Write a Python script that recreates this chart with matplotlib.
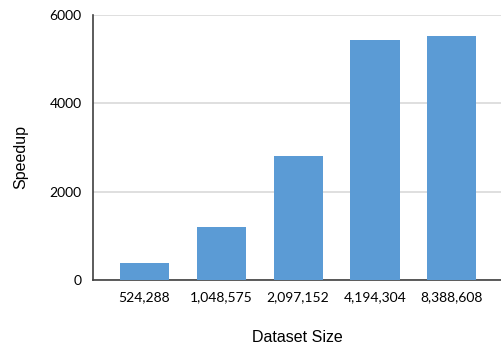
import matplotlib
matplotlib.use("Agg")
import matplotlib.pyplot as plt
import numpy as np

# data
sizes = ["524,288", "1,048,575", "2,097,152", "4,194,304", "8,388,608"]
speedup = [385, 1200, 2810, 5430, 5520]
yticks = [0, 2000, 4000, 6000]

fig = plt.figure(figsize=(5.01, 3.47), dpi=100)
ax = fig.add_axes([0.1856, 0.193, 0.8144, 0.764])

x = np.arange(len(sizes))
ax.bar(x, speedup, width=0.64, color="#5b9bd5", zorder=3)

ax.set_xlim(-0.669, 4.64)
ax.set_ylim(0, 6000)
ax.set_yticks(yticks)
ax.set_xticks(x)
ax.set_xticklabels(sizes, family="Lato", fontsize=10)
for lab in ax.get_yticklabels():
    lab.set_family("Lato")
    lab.set_fontsize(10)
ax.tick_params(length=0, pad=8)

ax.grid(axis="y", color="#d9d9d9", linewidth=1.2, zorder=0)
for s in ["top", "right"]:
    ax.spines[s].set_visible(False)
for s in ["left", "bottom"]:
    ax.spines[s].set_color("#404040")
    ax.spines[s].set_linewidth(1.2)

fig.text(0.042, 0.548, "Speedup", rotation=90, ha="center", va="center",
         family="Liberation Sans", fontsize=11.5)
fig.text(0.593, 0.026, "Dataset Size", ha="center", va="center",
         family="Liberation Sans", fontsize=11.5)

fig.savefig("out.png", dpi=100)
